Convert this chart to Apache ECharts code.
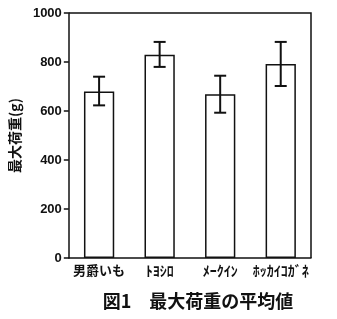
<!DOCTYPE html>
<html><head><meta charset="utf-8">
<script src="https://cdn.jsdelivr.net/npm/echarts@6/dist/echarts.min.js"></script>
<style>html,body{margin:0;padding:0;background:#fff}#c{width:337px;height:319px}</style>
</head><body><div id="c"></div>
<script>
const categories = ['男爵いも', 'ﾄﾖｼﾛ', 'ﾒｰｸｲﾝ', 'ﾎｯｶｲｺｶﾞﾈ'];
const means = [680, 830, 668, 792];
const errLow = [623, 780, 593, 702];
const errHigh = [740, 882, 744, 882];
const yTicks = [0, 200, 400, 600, 800, 1000];

const chart = echarts.init(document.getElementById('c'));
const fontCJK = '"Noto Sans CJK JP", sans-serif';
chart.setOption({
  animation: false,
  title: {
    text: '図1　最大荷重の平均値',
    left: 193, top: 287, textAlign: 'center',
    textStyle: {fontFamily: fontCJK, fontSize: 18, fontWeight: 'bold', color: '#111'}
  },
  grid: {left: 68, right: 26, top: 13, bottom: 61},
  xAxis: {
    type: 'category', data: categories,
    axisLine: {lineStyle: {color: '#111', width: 1.5}},
    axisTick: {show: false},
    axisLabel: {
      color: '#111', margin: 6, interval: 0, hideOverlap: false,
      formatter: v => (/^[\uFF61-\uFF9F]+$/.test(v) ? '{k|' + v + '}' : '{n|' + v + '}'),
      rich: {
        n: {fontFamily: fontCJK, fontSize: 13, fontWeight: 'bold', color: '#111'},
        k: {fontFamily: fontCJK, fontSize: 14, fontWeight: 'bold', color: '#111'}
      }
    }
  },
  yAxis: {
    type: 'value', min: 0, max: 1000, interval: 200,
    name: '最大荷重(g)', nameLocation: 'middle', nameGap: 45, nameRotate: 90,
    nameTextStyle: {fontFamily: fontCJK, fontSize: 14, fontWeight: 'bold', color: '#111'},
    axisLine: {show: true, lineStyle: {color: '#111', width: 1.5}},
    axisTick: {show: true, length: 5, lineStyle: {color: '#111', width: 1.5}},
    splitLine: {show: false},
    axisLabel: {fontFamily: '"Liberation Sans", Arial, sans-serif', fontSize: 13, fontWeight: 'bold', color: '#111', margin: 7,
      formatter: v => yTicks.includes(v) ? String(v) : ''}
  },
  series: [
    {
      type: 'bar', data: means, barWidth: '50%',
      itemStyle: {color: '#fff', borderColor: '#111', borderWidth: 1.5}
    },
    {
      type: 'custom',
      data: categories.map((c, i) => [i, errLow[i], errHigh[i]]),
      renderItem: function (params, api) {
        const lo = api.coord([api.value(0), api.value(1)]);
        const hi = api.coord([api.value(0), api.value(2)]);
        const hw = 6;
        const st = {stroke: '#111', lineWidth: 2};
        return {type: 'group', children: [
          {type: 'line', shape: {x1: lo[0], y1: lo[1], x2: hi[0], y2: hi[1]}, style: st},
          {type: 'line', shape: {x1: lo[0]-hw, y1: lo[1], x2: lo[0]+hw, y2: lo[1]}, style: st},
          {type: 'line', shape: {x1: hi[0]-hw, y1: hi[1], x2: hi[0]+hw, y2: hi[1]}, style: st}
        ]};
      },
      z: 10
    },
    {
      type: 'custom', silent: true,
      data: [[0]],
      renderItem: function (params, api) {
        const cs = params.coordSys;
        const st = {stroke: '#111', lineWidth: 1.5, fill: null};
        return {type: 'polyline', shape: {points: [[cs.x, cs.y], [cs.x + cs.width, cs.y], [cs.x + cs.width, cs.y + cs.height]]}, style: st};
      }
    }
  ]
});
</script></body></html>
